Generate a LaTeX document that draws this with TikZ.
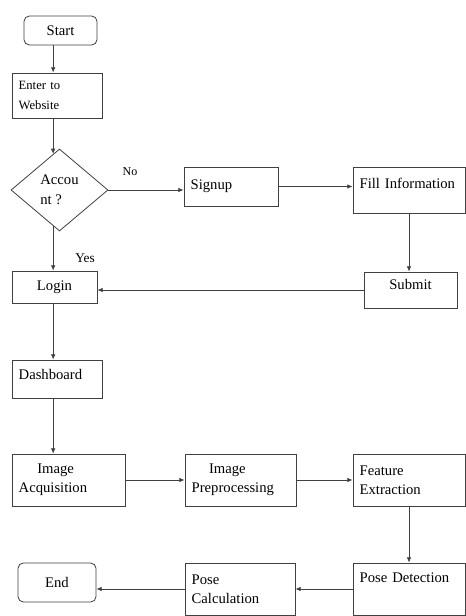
\documentclass[tikz,border=0pt]{standalone}
\usepackage{fontspec}
\setmainfont{Liberation Serif}
\usetikzlibrary{shapes.geometric,arrows.meta}

\begin{document}
\begin{tikzpicture}[x=0.75pt,y=-0.75pt,
  every node/.style={font=\fontsize{11}{14}\selectfont},
  box/.style={draw=black!75, line width=0.6pt, rectangle, align=left, inner xsep=5pt, inner ysep=2pt},
  term/.style={box, rounded corners=4pt, align=center},
  arr/.style={draw=black!75, line width=0.6pt, -{Latex[length=4pt,width=3.5pt]}}]
\useasboundingbox (0,0) rectangle (465,616);
% Login part
\node[term, minimum width=54.75pt, minimum height=21.75pt] (start) at (60.5,30.5) {Start};
\node[box, text width=57.5pt, minimum height=33.75pt, font=\fontsize{9.5}{15}\selectfont] (enter) at (57,95.5) {Enter to\\Website};
\node[draw=black!75, line width=0.6pt, diamond, minimum width=72.75pt, minimum height=61.5pt, align=left, inner sep=0pt, font=\fontsize{11}{15}\selectfont] (acc) at (59.5,190) {Accou\\nt ?};
\node[box, text width=60.5pt, minimum height=29.25pt] (signup) at (231,186.5) {Signup};
\node[box, text width=74pt, minimum height=34.5pt, text depth=10.5pt] (fill) at (409,190) {Fill Information};
\node[box, align=center, text width=59.75pt, minimum height=27pt, text depth=9pt] (submit) at (410.5,290) {Submit};
\node[box, align=center, text width=53.75pt, minimum height=24pt] (login) at (54.5,287) {Login};
\node[font=\fontsize{9}{11}\selectfont] (no) at (130,172) {No};
\node[font=\fontsize{10}{12}\selectfont] (yes) at (85,258) {Yes};
% Pose part
\node[box, text width=57.5pt, minimum height=28.5pt, text depth=7.5pt] (dash) at (57,379) {Dashboard};
\node[box, text width=74.75pt, minimum height=39pt] (ia) at (68.5,480) {\hspace*{14pt}Image\\Acquisition};
\node[box, text width=73.25pt, minimum height=39pt] (ip) at (240.5,480) {\hspace*{13pt}Image\\Preprocessing};
\node[box, text width=74pt, minimum height=39pt] (fe) at (409,480) {Feature\\Extraction};
\node[box, text width=74pt, minimum height=39pt, text depth=16.5pt] (pd) at (409,589) {Pose Detection};
\node[box, text width=72.5pt, minimum height=39pt] (pc) at (240,589) {Pose\\Calculation};
\node[term, minimum width=58.5pt, minimum height=29.25pt] (end) at (57,582.5) {End};
% Connectors
\draw[arr] (start.south -| acc.100) -- (enter.north -| acc.100);
\draw[arr] (enter.south -| acc.100) -- (acc.100);
\draw[arr] (acc.east) -- (acc.east -| signup.west);
\draw[arr] (signup.east) -- (signup.east -| fill.west);
\draw[arr] (fill.south) -- (fill.south |- submit.north);
\draw[arr] (submit.west) -- (submit.west -| login.east);
\draw[arr] (acc.260) -- (acc.260 |- login.north);
\draw[arr] (login.south -| acc.100) -- (dash.north -| acc.100);
\draw[arr] (dash.south -| acc.100) -- (ia.north -| acc.100);
\draw[arr] (ia.east) -- (ip.west);
\draw[arr] (ip.east) -- (fe.west);
\draw[arr] (fe.south) -- (pd.north);
\draw[arr] (pd.west) -- (pc.east);
\draw[arr] (pc.west) -- (pc.west -| end.east);
\end{tikzpicture}
\end{document}
